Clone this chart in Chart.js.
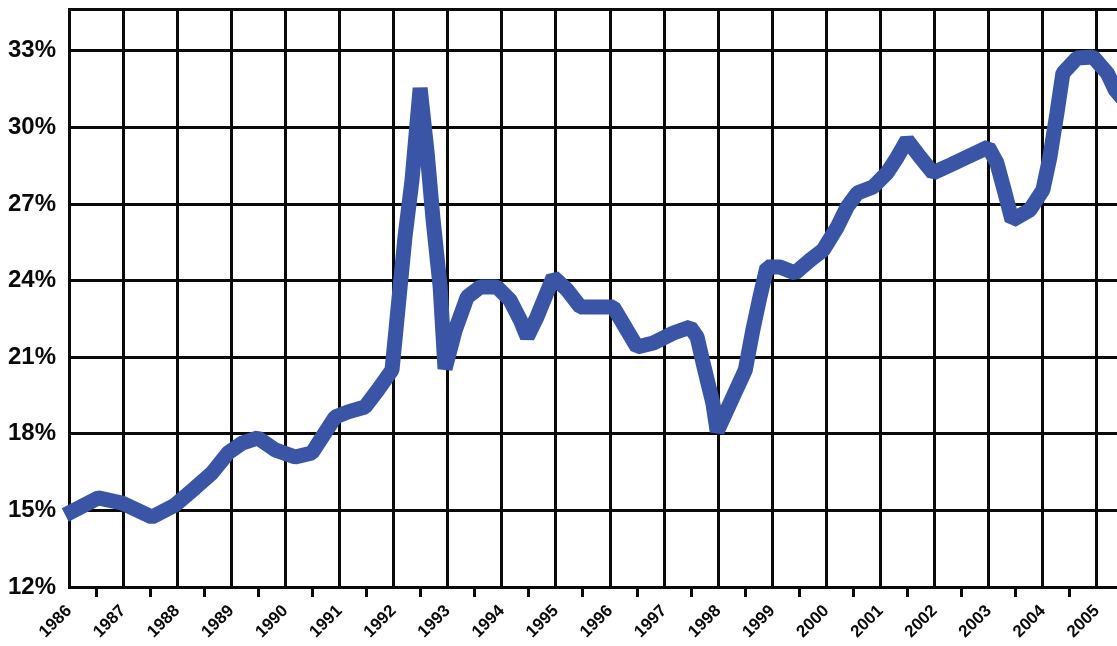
<!DOCTYPE html>
<html>
<head>
<meta charset="utf-8">
<script src="https://cdn.jsdelivr.net/npm/chart.js@4.4.1/dist/chart.umd.min.js"></script>
<style>
  html, body { margin: 0; padding: 0; background: #fff; overflow: hidden; }
  canvas { display: block; }
</style>
</head>
<body>
<canvas id="rate-chart" width="1117" height="646"></canvas>
<script>
// tick labels
var years = [1986, 1987, 1988, 1989, 1990, 1991, 1992, 1993, 1994, 1995,
             1996, 1997, 1998, 1999, 2000, 2001, 2002, 2003, 2004, 2005];
var yTicks = [12, 15, 18, 21, 24, 27, 30, 33];

// series (decimal year, percent)
var when = [1985.93, 1986.54, 1986.98, 1987.53, 1987.96, 1988.33, 1988.64, 1988.94, 1989.20, 1989.49,
            1989.81, 1990.18, 1990.49, 1990.68, 1990.92, 1991.16, 1991.47, 1991.71, 1991.97, 1992.03,
            1992.12, 1992.21, 1992.34, 1992.49, 1992.62, 1992.73, 1992.86, 1992.95, 1993.14, 1993.36,
            1993.60, 1993.91, 1994.15, 1994.34, 1994.47, 1994.65, 1994.95, 1995.21, 1995.45, 1995.76,
            1996.06, 1996.31, 1996.50, 1996.80, 1997.17, 1997.48, 1997.61, 1997.72, 1997.90, 1997.98,
            1998.27, 1998.50, 1998.64, 1998.77, 1998.90, 1999.14, 1999.42, 1999.70, 1999.94, 2000.20,
            2000.38, 2000.57, 2000.86, 2001.12, 2001.31, 2001.49, 2001.73, 2001.97, 2002.29, 2002.60,
            2002.99, 2003.15, 2003.30, 2003.43, 2003.76, 2004.00, 2004.13, 2004.26, 2004.37, 2004.63,
            2004.93, 2005.19, 2005.34, 2005.50];
var rate = [14.82, 15.49, 15.29, 14.74, 15.21, 15.88, 16.46, 17.25, 17.64, 17.84,
            17.37, 17.09, 17.25, 17.87, 18.66, 18.86, 19.05, 19.72, 20.50, 21.79,
            23.75, 25.71, 27.94, 31.54, 29.00, 26.37, 23.75, 20.55, 22.07, 23.36,
            23.75, 23.75, 23.24, 22.46, 21.79, 22.58, 24.14, 23.63, 22.97, 22.97,
            22.97, 22.07, 21.40, 21.56, 21.95, 22.18, 21.79, 20.77, 19.21, 18.10,
            19.44, 20.50, 22.07, 23.36, 24.53, 24.53, 24.30, 24.81, 25.20, 26.10,
            26.88, 27.43, 27.67, 28.22, 28.84, 29.51, 28.84, 28.22, 28.53, 28.84,
            29.23, 28.61, 27.43, 26.37, 26.77, 27.55, 28.84, 30.56, 32.13, 32.72,
            32.76, 32.13, 31.46, 31.07];

var points = when.map(function (t, i) { return { x: t, y: rate[i] }; });

var X_MIN = 1986, X_MAX = 2005.37;
var ink = "#0a0a0a";

// keep the plot area where the picture has it
function noPad(s) {
  s.paddingTop = 0; s.paddingBottom = 0; s.paddingLeft = 0; s.paddingRight = 0;
}

var ctx = document.getElementById("rate-chart").getContext("2d");
var myRateChart = new Chart(ctx, {
  type: "line",
  data: {
    datasets: [
      {
        data: points,
        borderColor: "#3a55a6",
        borderWidth: 15,
        borderJoinStyle: "bevel",
        pointRadius: 0,
        tension: 0,
        clip: false,
      },
    ],
  },
  options: {
    responsive: false,
    animation: false,
    events: [],
    layout: { padding: { top: 9, left: 0, right: 0, bottom: 0 } },
    plugins: {
      legend: { display: false },
      tooltip: { enabled: false },
    },
    scales: {
      x: {
        type: "linear",
        position: "bottom",
        weight: 1,
        min: X_MIN,
        max: X_MAX,
        afterBuildTicks: function (s) {
          s.ticks = years.map(function (y) { return { value: y }; });
        },
        afterFit: function (s) { s.height = 49; noPad(s); },
        ticks: {
          autoSkip: false,
          minRotation: 45,
          maxRotation: 45,
          padding: 4,
          color: ink,
          font: { family: "'Liberation Sans', Arial, sans-serif", size: 17, weight: "bold" },
          callback: function (v) { return String(v); },
        },
        grid: { color: ink, lineWidth: 3, drawTicks: false },
        border: { display: false },
      },
      xMinor: {
        type: "linear",
        position: "bottom",
        weight: 0,
        min: X_MIN,
        max: X_MAX,
        afterBuildTicks: function (s) {
          s.ticks = years.map(function (y) { return { value: y + 0.5 }; });
        },
        afterFit: function (s) { s.height = 10; noPad(s); },
        ticks: { display: false },
        grid: { drawOnChartArea: false, color: ink, lineWidth: 3, tickLength: 10 },
        border: { display: true, color: ink, width: 3 },
      },
      xTop: {
        type: "linear",
        position: "top",
        min: X_MIN,
        max: X_MAX,
        afterFit: function (s) { s.height = 0; noPad(s); },
        ticks: { display: false },
        grid: { display: false },
        border: { display: true, color: ink, width: 3 },
      },
      y: {
        min: 12,
        max: 34.64,
        afterBuildTicks: function (s) {
          s.ticks = yTicks.map(function (v) { return { value: v }; });
        },
        afterFit: function (s) { s.width = 69; noPad(s); },
        ticks: {
          padding: 13,
          color: ink,
          font: { family: "'Liberation Sans', Arial, sans-serif", size: 24, weight: "bold" },
          callback: function (v) { return v + "%"; },
        },
        grid: { color: ink, lineWidth: 3, drawTicks: false },
        border: { display: true, color: ink, width: 3 },
      },
    },
  },
});
</script>
</body>
</html>
